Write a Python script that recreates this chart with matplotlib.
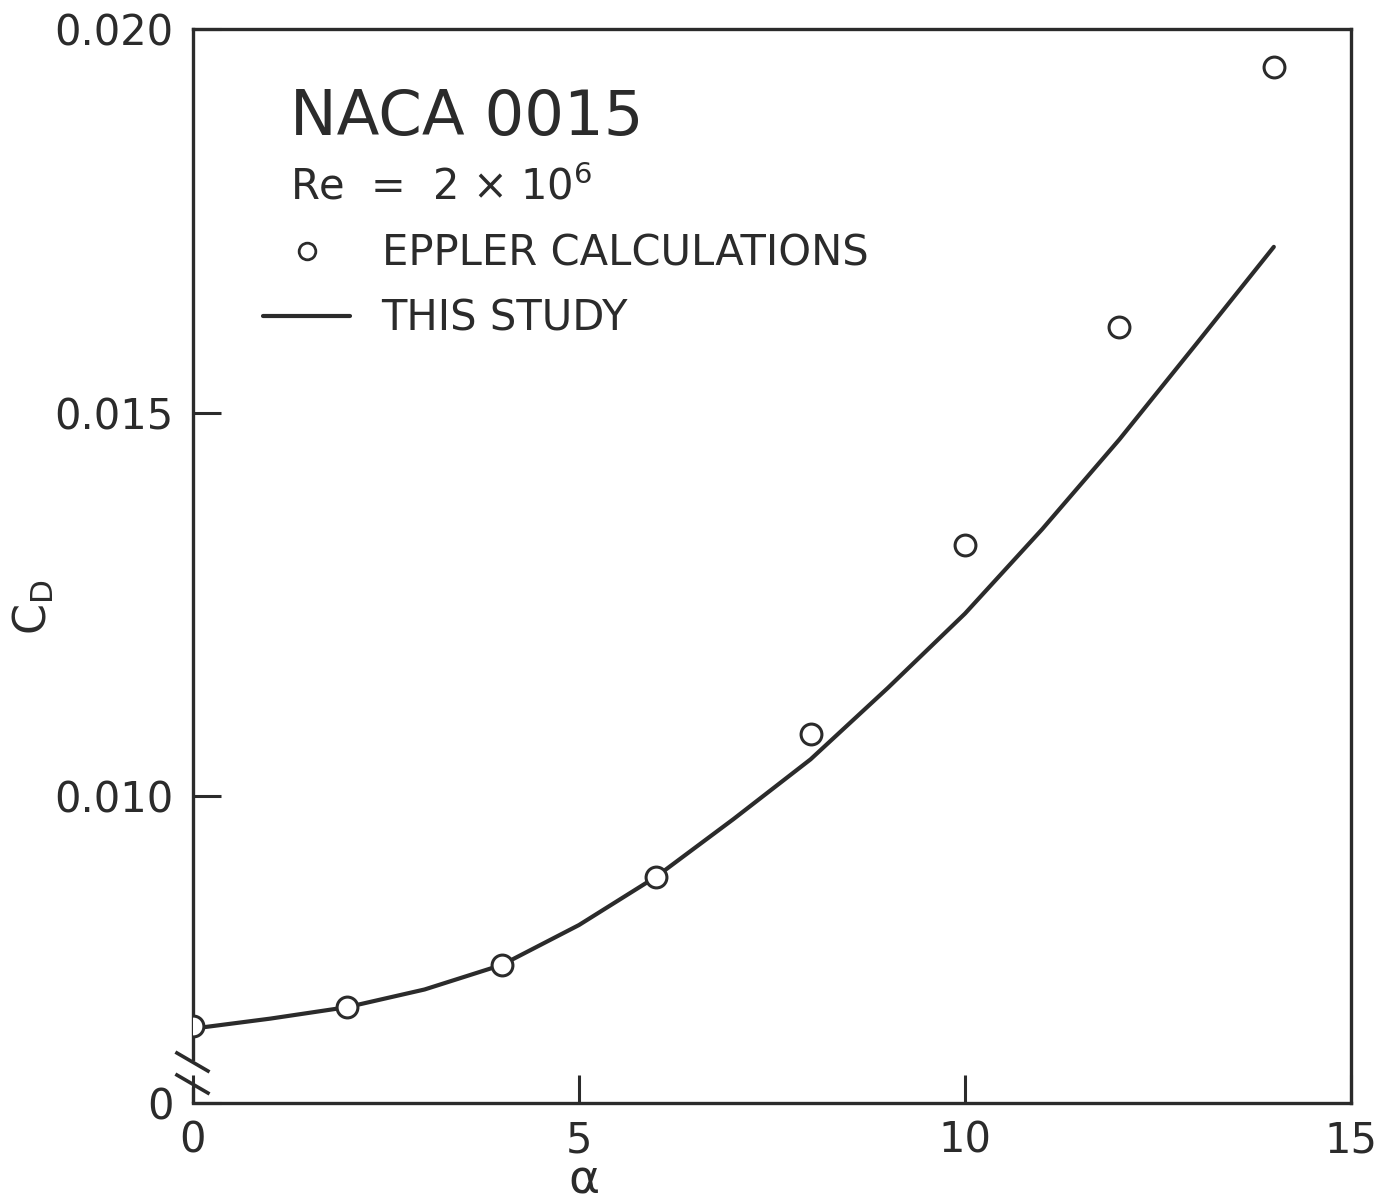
import matplotlib
matplotlib.use('Agg')
import matplotlib.pyplot as plt
from matplotlib.lines import Line2D

# angle of attack (deg) and drag coefficient
alpha_eppler = [0, 2, 4, 6, 8, 10, 12, 14]
cd_eppler = [0.00700, 0.00725, 0.00780, 0.00895, 0.01081, 0.01328, 0.01611, 0.01951]

alpha_study = [0, 1, 2, 3, 4, 5, 6, 7, 8, 9, 10, 11, 12, 13, 14]
cd_study = [0.00697, 0.00710, 0.00725, 0.00748, 0.00780, 0.00832, 0.00895,
            0.00970, 0.01048, 0.01141, 0.01238, 0.01348, 0.01465, 0.01590,
            0.01716]

xticks = [0, 5, 10, 15]
xticklabels = ['0', '5', '10', '15']
yticks = [0.006, 0.010, 0.015, 0.020]
yticklabels = ['0', '0.010', '0.015', '0.020']

ink = '#2b2b2b'
plt.rcParams['font.family'] = 'DejaVu Sans'
plt.rcParams['mathtext.default'] = 'regular'

fig = plt.figure(figsize=(13.98, 12.03), dpi=100)
ax = fig.add_axes([0.138, 0.0831, 0.8284, 0.8928])

line, = ax.plot(alpha_study, cd_study, color=ink, linewidth=3.0,
                solid_capstyle='round', solid_joinstyle='round', zorder=2,
                label='THIS STUDY')
ax.plot(alpha_eppler, cd_eppler, linestyle='none', marker='o',
        markersize=15, markeredgewidth=2.2, markeredgecolor=ink,
        markerfacecolor='white', zorder=3)

ax.set_xlim(0, 15)
ax.set_ylim(0.006, 0.020)
ax.set_xticks(xticks)
ax.set_xticklabels(xticklabels)
ax.set_yticks(yticks)
ax.set_yticklabels(yticklabels)
ax.tick_params(direction='in', length=20, width=2.2, color=ink,
               labelsize=30, labelcolor=ink)
ax.tick_params(axis='y', pad=14)
ax.tick_params(axis='x', pad=12)

for s in ax.spines.values():
    s.set_linewidth(2.4)
    s.set_color(ink)

# axis break on the left spine
ax.spines['left'].set_bounds(0.00658, 0.020)
ax.plot([0, 0], [0, 0.0149], transform=ax.transAxes, color=ink,
        linewidth=2.4, clip_on=False, solid_capstyle='butt')
for y0, y1 in [(0.0466, 0.0298), (0.0261, 0.0093)]:
    ax.plot([-0.0138, 0.0130], [y0, y1], transform=ax.transAxes, color=ink,
            linewidth=2.6, clip_on=False)

ax.set_xlabel('α', fontsize=34, color=ink)
ax.xaxis.set_label_coords(0.338, -0.052)
ax.set_ylabel('C$_D$', fontsize=32, color=ink)
ax.yaxis.set_label_coords(-0.118, 0.462)

ax.text(0.084, 0.901, 'NACA 0015', transform=ax.transAxes, fontsize=45,
        color=ink, va='baseline')
ax.text(0.084, 0.841, 'Re  =  2 × 10$^6$', transform=ax.transAxes,
        fontsize=30, color=ink, va='baseline')

marker_handle = Line2D([], [], linestyle='none', marker='o', markersize=12,
                       markeredgewidth=2.0, markeredgecolor=ink,
                       markerfacecolor='white')
ax.legend([marker_handle, line], ['EPPLER CALCULATIONS', 'THIS STUDY'],
          loc='upper left', bbox_to_anchor=(0.028, 0.845), frameon=False,
          fontsize=30, handlelength=2.1, handletextpad=0.75,
          labelspacing=0.55, labelcolor=ink)

fig.savefig('out.png', dpi=100)
